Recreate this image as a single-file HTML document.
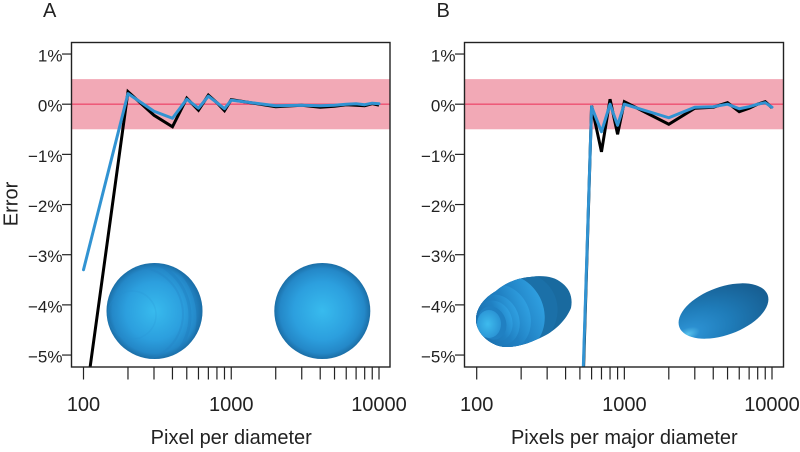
<!DOCTYPE html>
<html lang="en">
<head>
<meta charset="utf-8">
<title>Error versus pixels per diameter</title>
<style>
html,body{margin:0;padding:0;background:#fff;width:800px;height:452px;overflow:hidden;}
svg{display:block;overflow:hidden;}
text{font-family:"Liberation Sans",Arial,sans-serif;fill:#222;}
</style>
</head>
<body>
<svg id="chart" width="800" height="452" viewBox="0 0 800 452" xmlns="http://www.w3.org/2000/svg">
<defs>
<radialGradient id="sphereFill" cx="50%" cy="50%" r="50%">
<stop offset="0" stop-color="#38bbee"/>
<stop offset="0.6" stop-color="#2c9fde"/>
<stop offset="0.88" stop-color="#2488c8"/>
<stop offset="1" stop-color="#1b6ea6"/>
</radialGradient>
<radialGradient id="ellipseFill" cx="0.06" cy="0.7" r="0.95">
<stop offset="0" stop-color="#58c2ec"/>
<stop offset="0.14" stop-color="#2b8fd0"/>
<stop offset="0.5" stop-color="#1f7cb9"/>
<stop offset="1" stop-color="#175f93"/>
</radialGradient>
<linearGradient id="bandFill" x1="0" y1="0.5" x2="1" y2="0.5">
<stop offset="0" stop-color="#1b70ae"/>
<stop offset="0.6" stop-color="#2080c2"/>
<stop offset="1" stop-color="#2f9fe0"/>
</linearGradient>
<radialGradient id="spotFill" cx="0.45" cy="0.5" r="0.55">
<stop offset="0" stop-color="#3ebbee"/>
<stop offset="1" stop-color="#2a93d4"/>
</radialGradient>
<clipPath id="clipA"><rect x="71.5" y="42.5" width="318.5" height="324.5"/></clipPath>
<clipPath id="clipB"><rect x="464.5" y="42.5" width="319" height="324.5"/></clipPath>
<clipPath id="clipRingSphere"><circle cx="154.5" cy="311" r="48"/></clipPath>
<clipPath id="clipRingEllipse"><path d="M476,320 C476,308 484,298 496,291 C504,284 516,278 530,277 C542,275 554,276 562,283 C570,289 573,298 571,308 C566,320 556,330 544,336 C532,342 520,347 506,347 C492,347 476,334 476,320 Z"/></clipPath>
</defs>
<g id="panelA"></g>
<g id="panelB"></g>
<g id="insets">
  <g>
    <circle cx="154.5" cy="311" r="48" fill="url(#sphereFill)"/>
    <g clip-path="url(#clipRingSphere)" fill="none">
      <circle cx="132" cy="315" r="24" stroke="#2a8fd0" stroke-width="1.5" opacity=".2"/>
      <circle cx="136" cy="314" r="47" stroke="#2380c2" stroke-width="2" opacity=".3"/>
      <circle cx="132" cy="316" r="58" stroke="#1f78b8" stroke-width="3" opacity=".3"/>
      <circle cx="128" cy="318" r="72" stroke="#1b6ea8" stroke-width="7" opacity=".35"/>
    </g>
  </g>
  <circle cx="322.3" cy="311" r="48" fill="url(#sphereFill)"/>
  <g clip-path="url(#clipRingEllipse)">
    <rect x="470" y="270" width="110" height="80" fill="#196a9f"/>
    <ellipse cx="515" cy="312" rx="43" ry="40" transform="rotate(-22 515 312)" fill="#1b70a8"/>
    <ellipse cx="509" cy="314" rx="35" ry="40" transform="rotate(-22 509 314)" fill="url(#bandFill)"/>
    <ellipse cx="503" cy="317" rx="27" ry="33" transform="rotate(-22 503 317)" fill="url(#bandFill)"/>
    <ellipse cx="498" cy="320" rx="21" ry="26" transform="rotate(-22 498 320)" fill="url(#bandFill)"/>
    <ellipse cx="495" cy="321" rx="17" ry="21" transform="rotate(-22 495 321)" fill="url(#bandFill)"/>
    <ellipse cx="492" cy="323" rx="14" ry="17" transform="rotate(-22 492 323)" fill="#2080c2"/>
    <ellipse cx="489" cy="324" rx="12" ry="14" fill="url(#spotFill)"/>
  </g>
  <ellipse cx="723.5" cy="311" rx="47" ry="24" transform="rotate(-20 723.5 311)" fill="url(#ellipseFill)"/>
</g>
<g id="overlays"></g>
</svg>
<script>
const xTickValues = [100,200,300,400,500,600,700,800,900,1000,2000,3000,4000,5000,6000,7000,8000,9000,10000];
const xTickLabels = ["100","1000","10000"];
const yTickValues = [1,0,-1,-2,-3,-4,-5];
const yTickLabels = ["1%","0%","\u22121%","\u22122%","\u22123%","\u22124%","\u22125%"];
const toleranceBand = [-0.5,0.5];

const panelATitle = "A";
const panelAXTitle = "Pixel per diameter";
const panelAPixels = [100,200,300,400,500,600,700,800,900,1000,2000,3000,4000,5000,6000,7000,8000,9000,10000];
const panelABlack = [-6.2,0.25,-0.22,-0.45,0.12,-0.12,0.18,0.03,-0.13,0.09,-0.05,-0.02,-0.06,-0.04,-0.01,-0.02,-0.03,0.01,-0.02];
const panelABlue = [-3.3,0.21,-0.14,-0.28,0.1,-0.08,0.16,0.03,-0.09,0.08,-0.03,-0.02,-0.03,-0.02,0,0.01,-0.01,0.02,0.01];

const panelBTitle = "B";
const panelBXTitle = "Pixels per major diameter";
const panelBPixels = [520,600,700,800,900,1000,2000,3000,4000,5000,6000,7000,8000,9000,10000];
const panelBBlack = [-6.0,-0.03,-0.95,0.1,-0.6,0.05,-0.4,-0.08,-0.06,0.03,-0.15,-0.08,0,0.05,-0.07];
const panelBBlue = [-5.8,-0.05,-0.55,0,-0.42,0,-0.27,-0.06,-0.05,0,-0.09,-0.05,0,0.03,-0.06];

const NS = "http://www.w3.org/2000/svg";
const Y_ZERO = 104.2, Y_PER_PERCENT = 50.17;
function yScale(v){ return Y_ZERO - Y_PER_PERCENT * v; }
function makeXScale(origin, decade){ return function(v){ return origin + decade * (Math.log10(v) - 2); }; }
function make(tag, attrs, parent){
  const el = document.createElementNS(NS, tag);
  for (const k in attrs) el.setAttribute(k, attrs[k]);
  parent.appendChild(el);
  return el;
}

function drawPanelBase(group, box, xScale, title, titleX, xTitle){
  const band = make("rect", {x:box.left, y:yScale(toleranceBand[1]), width:box.right-box.left, height:yScale(toleranceBand[0])-yScale(toleranceBand[1]), fill:"#f2a9b6"}, group);
  
  
  const zero = make("line", {x1:box.left, x2:box.right, y1:yScale(0), y2:yScale(0), stroke:"#ee4f70", "stroke-width":1.3}, group);
  
  

  xTickValues.forEach(function(v){
    const t = make("line", {x1:xScale(v), x2:xScale(v), y1:box.bottom, y2:box.bottom+12.5, stroke:"#222", "stroke-width":1.2}, group);
    
    
  });
  [100,1000,10000].forEach(function(v,i){
    const l = make("text", {x:xScale(v), y:411, "text-anchor":"middle", "font-size":20}, group);
    l.textContent = xTickLabels[i];
    
    
  });
  yTickValues.forEach(function(v,i){
    const t = make("line", {x1:box.left-9.5, x2:box.left, y1:yScale(v), y2:yScale(v), stroke:"#222", "stroke-width":1.2}, group);
    
    
    const l = make("text", {x:box.left-9, y:yScale(v)+7.5, "text-anchor":"end", "font-size":17}, group);
    l.textContent = yTickLabels[i];
    
    
  });
  const xt = make("text", {x:xScale(1000), y:444, "text-anchor":"middle", "font-size":20}, group);
  xt.textContent = xTitle;
  
  
  const pt = make("text", {x:titleX, y:17, "font-size":20}, group);
  pt.textContent = title;
  
  
}

function drawSeries(group, box, xScale, xs, black, blue, clipId){
  function pts(vals){ return xs.map(function(x,i){ return xScale(x).toFixed(2)+","+yScale(vals[i]).toFixed(2); }).join(" "); }
  const g = make("g", {"clip-path":"url(#"+clipId+")"}, group);
  
  
  const k = make("polyline", {points:pts(black), fill:"none", stroke:"#000", "stroke-width":3, "stroke-linejoin":"miter"}, g);
  
  
  const b = make("polyline", {points:pts(blue), fill:"none", stroke:"#3193d2", "stroke-width":3, "stroke-linejoin":"round", "stroke-linecap":"round"}, g);
  
  
  const f = make("rect", {x:box.left, y:box.top, width:box.right-box.left, height:box.bottom-box.top, fill:"none", stroke:"#222", "stroke-width":1.4}, group);
  
  
}

const boxA = {left:71.5, right:390, top:42.5, bottom:367};
const boxB = {left:464.5, right:783.5, top:42.5, bottom:367};
const xA = makeXScale(83.5, 147.75);
const xB = makeXScale(476.7, 147.65);
const panelA = document.getElementById("panelA");
const panelB = document.getElementById("panelB");
const overlays = document.getElementById("overlays");

drawPanelBase(panelA, boxA, xA, panelATitle, 43, panelAXTitle);
drawPanelBase(panelB, boxB, xB, panelBTitle, 436.5, panelBXTitle);
drawSeries(overlays, boxA, xA, panelAPixels, panelABlack, panelABlue, "clipA");
drawSeries(overlays, boxB, xB, panelBPixels, panelBBlack, panelBBlue, "clipB");

const yTitle = make("text", {x:0, y:0, "text-anchor":"middle", "font-size":20, transform:"translate(17.5,204) rotate(-90)"}, panelA);
yTitle.textContent = "Error";


</script>
</body>
</html>
